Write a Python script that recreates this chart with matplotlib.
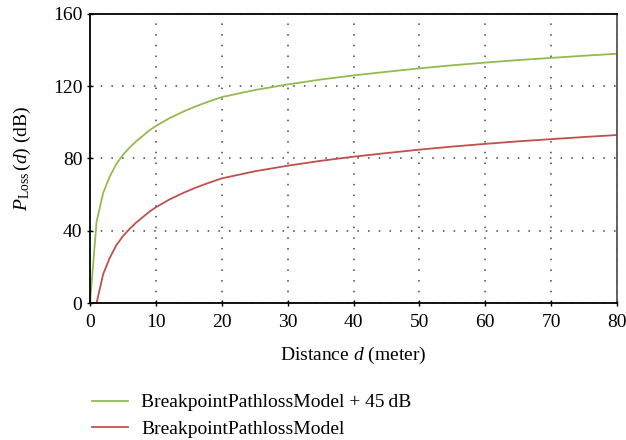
import matplotlib
matplotlib.use("Agg")
import matplotlib.pyplot as plt

plt.rcParams['font.family'] = ['Liberation Serif', 'DejaVu Serif']
plt.rcParams['mathtext.fontset'] = 'custom'
plt.rcParams['mathtext.rm'] = 'Liberation Serif'
plt.rcParams['mathtext.it'] = 'Liberation Serif:italic'

distance = [0, 1, 2, 3, 4, 5, 6, 7, 8, 9, 10, 12, 14, 16, 18, 20, 25, 30, 35, 40,
            45, 50, 55, 60, 65, 70, 75, 80]
loss_red = [0, 0, 16, 25, 32, 37, 41, 44.5, 47.5, 50.5, 53, 57.2, 60.7, 63.8, 66.5, 69,
            72.9, 76, 78.7, 81, 83, 84.9, 86.6, 88.1, 89.5, 90.7, 91.9, 93]
loss_green = [0, 45, 61, 70, 77, 82, 86, 89.5, 92.5, 95.5, 98, 102.2, 105.7, 108.8, 111.5, 114,
              117.9, 121, 123.7, 126, 128, 129.9, 131.6, 133.1, 134.5, 135.7, 136.9, 138]
labels = ["BreakpointPathlossModel + 45\u2009dB", "BreakpointPathlossModel"]
xticks = [0, 10, 20, 30, 40, 50, 60, 70, 80]
yticks = [0, 40, 80, 120, 160]

fig = plt.figure(figsize=(6.26, 4.40), dpi=100)
ax = fig.add_axes([90/626, 1-303/440, 527/626, 289/440])

l1, = ax.plot(distance, loss_green, color='#92bb50', lw=1.3)
l2, = ax.plot(distance, loss_red, color='#c0504d', lw=1.3)

ax.set_xlim(0, 80)
ax.set_ylim(0, 160)
ax.set_xticks(xticks)
ax.set_yticks(yticks)
ax.tick_params(direction='inout', length=4, width=1, labelsize=14, colors='black')
ax.tick_params(axis='x', pad=6)
ax.grid(True, color='#444444', linestyle=(0, (1, 6)), lw=1.1)
for s in ax.spines.values():
    s.set_linewidth(1.3)
ax.spines['right'].set_color('#555555')

ax.set_xlabel("Distance $d$ (meter)", fontsize=14, labelpad=10)
ax.set_ylabel("$P_{\\mathrm{Loss}}\\,(d)$ (dB)", fontsize=14, labelpad=14)

fig.legend([l1, l2], labels, loc='upper left', bbox_to_anchor=(84/626, 1-386/440),
           frameon=False, fontsize=14, handlelength=1.85, handletextpad=0.7,
           labelspacing=0.45, borderaxespad=0)

fig.savefig("out.png", dpi=100)
